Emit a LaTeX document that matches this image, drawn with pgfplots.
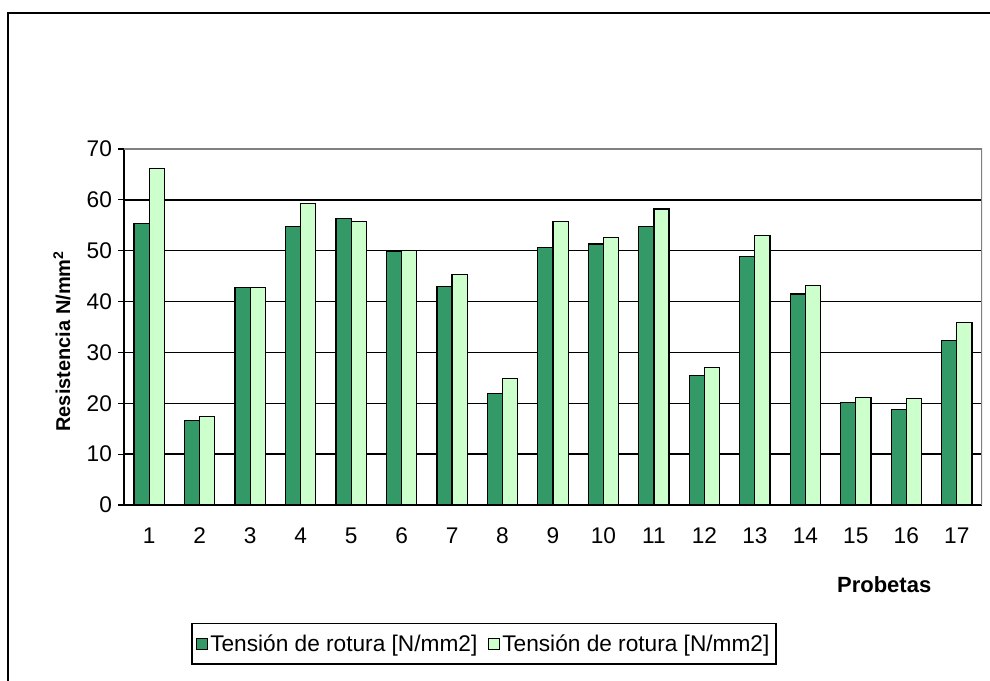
\documentclass[border=0pt]{standalone}
\usepackage{fontspec}
\setmainfont{Liberation Sans}
\usepackage{pgfplots}
\pgfplotsset{compat=1.18}
\definecolor{darkg}{HTML}{339966}
\definecolor{lightg}{HTML}{CCFFCC}
\begin{document}
\begin{tikzpicture}
\useasboundingbox (0pt,0pt) rectangle (742.5pt,510.75pt);
\draw[black,line width=1.3pt] (6pt,0pt) -- (6pt,501pt) -- (742.5pt,501pt);
\begin{axis}[
  at={(93pt,132pt)}, anchor=south west,
  scale only axis, width=643.5pt, height=267pt,
  xmin=0.5, xmax=17.5, ymin=0, ymax=70,
  ybar=0pt, bar width=0.3,
  /pgf/number format/assume math mode=true,
  axis x line*=bottom, axis y line*=left,
  axis line style={black, line width=1pt},
  xtick={1,...,17},
  major x tick style={draw=none},
  extra x ticks={0.5,1.5,...,17.5},
  extra x tick labels={},
  extra x tick style={grid=none, major tick length=4.5pt, tick style={draw=black, line width=0.9pt}},
  ytick={0,10,...,70},
  ytick style={black, line width=0.9pt},
  major tick length=4.5pt,
  tick align=outside,
  ymajorgrids, grid style={black, line width=1pt},
  xticklabel style={yshift=-9pt, font=\fontsize{17}{19}\selectfont},
  yticklabel style={xshift=-1pt, font=\fontsize{17}{19}\selectfont},
  ylabel={\textbf{Resistencia N/mm\textsuperscript{2}}},
  ylabel style={at={(axis description cs:-0.0723,0.46)}, anchor=center, font=\fontsize{15}{17}\selectfont},
  xlabel={\textbf{Probetas}},
  xlabel style={at={(axis description cs:0.886,-0.2247)}, anchor=center, font=\fontsize{16.5}{18}\selectfont},
  legend style={at={(axis description cs:0.4196,-0.390)}, anchor=center, legend columns=2,
    draw=black, line width=1pt, font=\fontsize{17}{20}\selectfont, inner xsep=3pt, inner ysep=6pt,
    /tikz/every even column/.append style={column sep=6pt}},
  legend image code/.code={\draw[#1,draw=black,line width=0.75pt] (0pt,-4pt) rectangle (8pt,4pt);},
]
\addplot[fill=darkg, draw=black, line width=0.9pt] coordinates {
(1,55.4) (2,16.6) (3,42.8) (4,54.7) (5,56.4) (6,49.8) (7,42.9) (8,21.9) (9,50.6)
(10,51.3) (11,54.7) (12,25.4) (13,48.8) (14,41.5) (15,20.1) (16,18.8) (17,32.4)};
\addplot[fill=lightg, draw=black, line width=0.9pt] coordinates {
(1,66.2) (2,17.4) (3,42.8) (4,59.3) (5,55.8) (6,50.1) (7,45.3) (8,24.8) (9,55.8)
(10,52.6) (11,58.2) (12,27.1) (13,53.0) (14,43.2) (15,21.2) (16,20.9) (17,35.9)};
\legend{Tensión de rotura [N/mm2], Tensión de rotura [N/mm2]}
\draw[gray, line width=1pt] (rel axis cs:0,1) -- (rel axis cs:1,1) -- (rel axis cs:1,0);
\end{axis}
\end{tikzpicture}
\end{document}
